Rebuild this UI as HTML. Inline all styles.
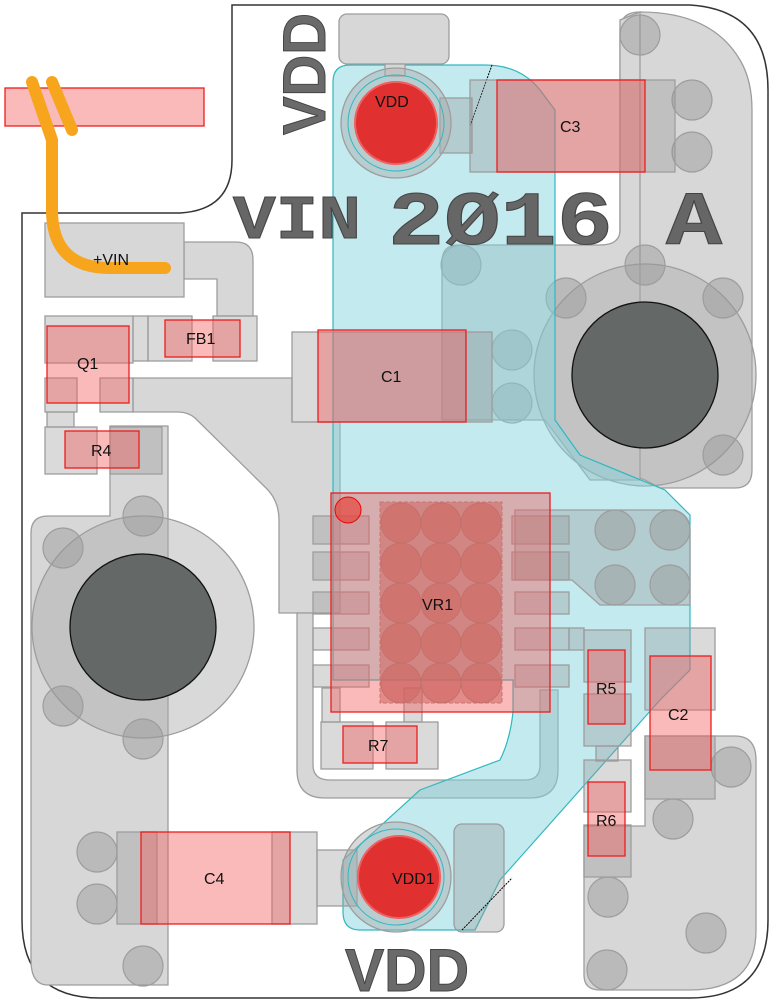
<!DOCTYPE html>
<html><head><meta charset="utf-8"><style>
html,body{margin:0;padding:0;background:#fff;width:773px;height:1004px;overflow:hidden}
svg{display:block}
.cu{fill:#d7d7d7;stroke:#9d9d9d;stroke-width:1.3}
.pad{fill:rgba(150,150,150,0.35);stroke:#9d9d9d;stroke-width:1.3}
.via{fill:rgba(150,150,150,0.45);stroke:#9d9d9d;stroke-width:1.2}
.ring{fill:rgba(170,170,170,0.45);stroke:#9d9d9d;stroke-width:1.3}
.hole{fill:#646867;stroke:#111;stroke-width:1.3}
.cmp{fill:rgba(242,90,90,0.42);stroke:#ee1c1c;stroke-width:1.3}
.lbl{font-family:"Liberation Sans",sans-serif;font-size:16px;fill:#111}
.silk{font-family:"Liberation Mono",monospace;font-weight:bold;fill:#666;stroke:#444;stroke-width:1}
.silks{font-family:"Liberation Sans",sans-serif;font-weight:bold;fill:#6a6a6a;stroke:#444;stroke-width:1}
</style></head><body>
<svg width="773" height="1004" viewBox="0 0 773 1004" xmlns="http://www.w3.org/2000/svg">
<!-- board outline -->
<path d="M232,5 L690,5 Q768,10 768,90 L768,920 Q768,998 690,998 L100,998 Q22,998 22,920 L22,213 L180,213 Q232,210 232,160 Z" fill="#fff" stroke="#333" stroke-width="1.5"/>

<!-- left big region -->
<path class="cu" d="M48,516 L110,516 L110,426 L168,426 L168,985 L48,985 Q31,985 31,960 L31,533 Q31,516 48,516 Z"/>
<!-- +VIN pad and trace to FB1 -->
<path class="cu" d="M184,242 L236,242 Q253,242 253,260 L253,316 L217,316 L217,279 L184,279 Z"/>
<rect class="cu" x="45" y="223" width="139" height="74"/>
<!-- central copper -->
<path class="cu" d="M133,378 L292,378 L292,422 L340,422 L340,613 L279,613 L279,520 Q279,500 265,487 L195,418 Q188,412 178,412 L133,412 Z"/>
<!-- U-loop trace -->
<path class="cu" d="M297,613 L313,613 L313,765 Q313,780 330,780 L525,780 Q540,780 540,765 L540,690 L558,690 L558,770 Q558,798 530,798 L325,798 Q297,798 297,770 Z"/>
<!-- top-right region -->
<path class="cu" d="M640,12 Q712,12 740,60 Q752,80 752,110 L752,470 Q752,488 735,488 L660,488 L645,480 L620,470 L620,30 Q620,12 640,12 Z"/>
<path class="cu" d="M458,245 L600,245 Q620,245 620,230 L620,20 L640,12 L640,480 L590,480 L545,420 L442,420 L442,262 Q442,245 458,245 Z"/>
<circle class="ring" cx="645" cy="375" r="111"/>
<circle class="hole" cx="645" cy="375" r="73"/>
<circle class="via" cx="640" cy="35" r="20"/>
<circle class="via" cx="692" cy="100" r="20"/>
<circle class="via" cx="692" cy="152" r="20"/>
<circle class="via" cx="461" cy="265" r="20"/>
<circle class="via" cx="645" cy="265" r="20"/>
<circle class="via" cx="566" cy="298" r="20"/>
<circle class="via" cx="723" cy="298" r="20"/>
<circle class="via" cx="723" cy="455" r="20"/>
<circle class="via" cx="512" cy="350" r="20"/>
<circle class="via" cx="512" cy="403" r="20"/>
<!-- left hole -->
<circle class="ring" cx="143" cy="627" r="111"/>
<circle class="hole" cx="143" cy="627" r="73"/>
<circle class="via" cx="143" cy="516" r="20"/>
<circle class="via" cx="63" cy="548" r="20"/>
<circle class="via" cx="63" cy="706" r="20"/>
<circle class="via" cx="143" cy="739" r="20"/>
<circle class="via" cx="143" cy="966" r="20"/>
<circle class="via" cx="97" cy="852" r="20"/>
<circle class="via" cx="97" cy="904" r="20"/>
<!-- bottom right region -->
<path class="cu" d="M645,736 L735,736 Q756,736 756,760 L756,930 Q756,990 690,990 L600,990 Q584,990 584,975 L584,826 L645,826 Z"/>
<circle class="via" cx="731" cy="767" r="20"/>
<circle class="via" cx="673" cy="819" r="20"/>
<circle class="via" cx="608" cy="897" r="20"/>
<circle class="via" cx="706" cy="933" r="20"/>
<circle class="via" cx="607" cy="970" r="20"/>
<!-- teal zone -->
<path d="M350,65 L485,65 Q520,65 540,90 L555,110 L555,420 L580,455 L665,490 L690,515 L690,670 L660,700 L500,880 L475,930 L360,930 Q343,930 343,912 L343,860 L420,790 L500,760 Q510,740 513,712 L513,680 L333,680 L333,500 Q333,480 333,470 L333,82 Q333,65 350,65 Z" fill="rgba(130,212,220,0.48)" stroke="#30b8c0" stroke-width="1.2"/>
<!-- right pad block near VR1 -->
<path class="pad" d="M515,510 L570,510 L578,510 L675,510 Q690,515 690,530 L690,605 L600,605 L572,580 L515,580 Z"/>
<circle class="via" cx="615" cy="530" r="20"/>
<circle class="via" cx="670" cy="530" r="20"/>
<circle class="via" cx="615" cy="585" r="20"/>
<circle class="via" cx="670" cy="585" r="20"/>
<!-- top VDD pad -->
<rect class="cu" x="339" y="14" width="110" height="50" rx="8"/>
<rect class="cu" x="385" y="64" width="20" height="12"/>
<rect class="pad" x="440" y="98" width="32" height="55"/>
<circle class="ring" cx="396" cy="123" r="55"/>
<circle cx="396" cy="123" r="48" fill="none" stroke="#30b8c0" stroke-width="1"/>
<circle cx="396" cy="123" r="41" fill="#e03030" stroke="#f06060" stroke-width="2"/>
<line x1="470" y1="126" x2="492" y2="65" stroke="#000" stroke-width="1" stroke-dasharray="2,1"/>
<!-- bottom VDD1 pad -->
<rect class="pad" x="454" y="824" width="50" height="108" rx="8"/>
<rect class="pad" x="317" y="850" width="40" height="56"/>
<circle class="ring" cx="396" cy="877" r="55"/>
<circle cx="396" cy="877" r="48" fill="none" stroke="#30b8c0" stroke-width="1"/>
<circle cx="399" cy="877" r="41" fill="#e03030" stroke="#f06060" stroke-width="2"/>
<line x1="462" y1="930" x2="512" y2="878" stroke="#000" stroke-width="1" stroke-dasharray="2,1"/>
<!-- pads -->
<rect class="pad" x="470" y="80" width="205" height="92"/>
<rect class="pad" x="292" y="332" width="200" height="90"/>
<rect class="pad" x="45" y="316" width="88" height="47"/>
<rect class="pad" x="133" y="316" width="15" height="45"/>
<rect class="pad" x="148" y="316" width="44" height="45"/>
<rect class="pad" x="213" y="316" width="44" height="45"/>
<rect class="pad" x="45" y="378" width="32" height="34"/>
<rect class="pad" x="100" y="378" width="33" height="34"/>
<rect class="pad" x="47" y="412" width="27" height="15"/>
<rect class="pad" x="45" y="427" width="52" height="47"/>
<rect class="pad" x="110" y="427" width="52" height="47"/>
<rect class="pad" x="117" y="832" width="40" height="92"/>
<rect class="pad" x="272" y="832" width="45" height="92"/>
<rect class="pad" x="584" y="630" width="47" height="52"/>
<rect class="pad" x="584" y="694" width="47" height="52"/>
<rect class="pad" x="596" y="746" width="22" height="15"/>
<rect class="pad" x="584" y="760" width="47" height="52"/>
<rect class="pad" x="584" y="825" width="47" height="52"/>
<path class="pad" d="M645,628 L715,628 L715,710 L645,710 Z"/>
<rect class="pad" x="645" y="736" width="70" height="63"/>
<rect class="pad" x="321" y="722" width="52" height="47"/>
<rect class="pad" x="386" y="722" width="52" height="47"/>
<rect class="pad" x="322" y="688" width="18" height="34"/>
<rect class="pad" x="404" y="688" width="18" height="34"/>
<!-- VR1 side pads -->
<rect class="pad" x="313" y="516" width="56" height="28"/>
<rect class="pad" x="313" y="552" width="56" height="28"/>
<rect class="pad" x="313" y="592" width="56" height="22"/>
<rect class="pad" x="313" y="628" width="56" height="22"/>
<rect class="pad" x="313" y="665" width="56" height="22"/>
<rect class="pad" x="512" y="516" width="57" height="28"/>
<rect class="pad" x="512" y="552" width="57" height="28"/>
<rect class="pad" x="515" y="592" width="54" height="22"/>
<rect class="pad" x="515" y="628" width="54" height="22"/>
<rect class="pad" x="515" y="665" width="54" height="22"/>
<rect class="pad" x="569" y="628" width="15" height="22"/>
<!-- VR1 thermal pad -->
<rect x="380" y="502" width="122" height="201" fill="rgba(180,110,100,0.55)" stroke="#aa8a80" stroke-dasharray="4,2"/>
<g fill="rgba(180,110,100,0.55)" stroke="#a08078" stroke-width="1">
<circle cx="401" cy="523" r="20"/><circle cx="441" cy="523" r="20"/><circle cx="481" cy="523" r="20"/>
<circle cx="401" cy="563" r="20"/><circle cx="441" cy="563" r="20"/><circle cx="481" cy="563" r="20"/>
<circle cx="401" cy="603" r="20"/><circle cx="441" cy="603" r="20"/><circle cx="481" cy="603" r="20"/>
<circle cx="401" cy="643" r="20"/><circle cx="441" cy="643" r="20"/><circle cx="481" cy="643" r="20"/>
<circle cx="401" cy="683" r="20"/><circle cx="441" cy="683" r="20"/><circle cx="481" cy="683" r="20"/>
</g>
<!-- components -->
<rect class="cmp" x="5" y="88" width="199" height="38"/>
<rect class="cmp" x="497" y="80" width="148" height="92"/>
<rect class="cmp" x="318" y="330" width="148" height="92"/>
<rect class="cmp" x="47" y="326" width="82" height="77"/>
<rect class="cmp" x="165" y="320" width="75" height="37"/>
<rect class="cmp" x="65" y="431" width="74" height="37"/>
<rect class="cmp" x="331" y="493" width="219" height="219"/>
<circle cx="348" cy="510" r="13" fill="rgba(230,70,60,0.7)" stroke="#e00" stroke-width="1"/>
<rect class="cmp" x="343" y="726" width="74" height="37"/>
<rect class="cmp" x="588" y="650" width="37" height="74"/>
<rect class="cmp" x="650" y="656" width="61" height="114"/>
<rect class="cmp" x="588" y="782" width="37" height="74"/>
<rect class="cmp" x="141" y="832" width="149" height="92"/>
<!-- orange trace -->
<path d="M32,82 L52,140 L52,210 Q52,268 110,268 L165,268" fill="none" stroke="#f6a51d" stroke-width="12" stroke-linecap="round" stroke-linejoin="round"/>
<path d="M52,82 L72,130" fill="none" stroke="#f6a51d" stroke-width="12" stroke-linecap="round"/>
<!-- silkscreen -->
<text class="silk" x="233" y="238" font-size="62" textLength="128" lengthAdjust="spacingAndGlyphs">VIN</text>
<text class="silk" x="388" y="244" font-size="76" textLength="225" lengthAdjust="spacingAndGlyphs">2Ø16</text>
<text class="silk" x="666" y="244" font-size="76" textLength="56" lengthAdjust="spacingAndGlyphs">A</text>
<text class="silks" transform="translate(325,135) rotate(-90)" font-size="60" textLength="122" lengthAdjust="spacingAndGlyphs">VDD</text>
<text class="silks" x="345" y="991" font-size="60" textLength="124" lengthAdjust="spacingAndGlyphs">VDD</text>
<!-- labels -->
<text class="lbl" x="93" y="265">+VIN</text>
<text class="lbl" x="375" y="107">VDD</text>
<text class="lbl" x="560" y="132">C3</text>
<text class="lbl" x="381" y="382">C1</text>
<text class="lbl" x="77" y="369">Q1</text>
<text class="lbl" x="186" y="344">FB1</text>
<text class="lbl" x="91" y="456">R4</text>
<text class="lbl" x="422" y="610">VR1</text>
<text class="lbl" x="368" y="751">R7</text>
<text class="lbl" x="596" y="694">R5</text>
<text class="lbl" x="668" y="720">C2</text>
<text class="lbl" x="596" y="826">R6</text>
<text class="lbl" x="204" y="884">C4</text>
<text class="lbl" x="392" y="884">VDD1</text>
</svg>
</body></html>
